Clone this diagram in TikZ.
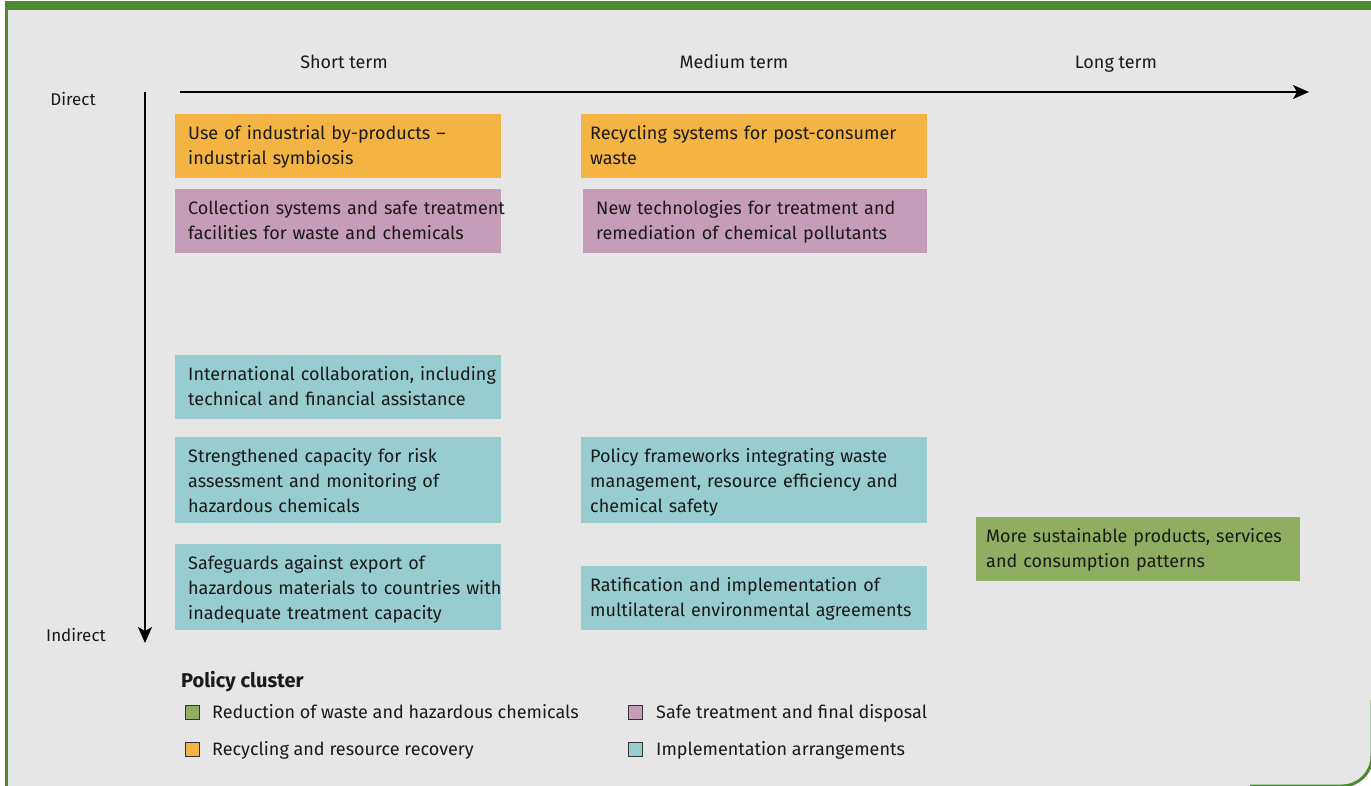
\documentclass[tikz,border=0pt]{standalone}
\usepackage{fontspec}
\setmainfont{Fira Sans}
\usetikzlibrary{arrows.meta}
\definecolor{bggrey}{HTML}{E6E6E6}
\definecolor{framegreen}{HTML}{4C8A2E}
\definecolor{orangeC}{HTML}{F3B443}
\definecolor{purpleC}{HTML}{C59DB9}
\definecolor{tealC}{HTML}{98CDD0}
\definecolor{greenC}{HTML}{8FAE62}
\definecolor{txt}{HTML}{1A1A1A}
\tikzset{
  every node/.style={font=\fontsize{18}{25}\selectfont, text=txt},
  pbox/.style={anchor=north west, inner xsep=13pt, inner ysep=0pt, align=left, minimum height=64pt,
    execute at begin node={\rule{0pt}{18pt}}, execute at end node={\rule[-6pt]{0pt}{6pt}}},
  pboxthree/.style={pbox, minimum height=86pt,
    execute at begin node={\rule{0pt}{21pt}}},
  header/.style={text height=15pt, text depth=2pt},
  axislabel/.style={font=\fontsize{17}{20}\selectfont, text height=14pt, text depth=1pt},
  axisline/.style={draw=black, line width=1.6pt, -{Stealth[length=16pt,width=14pt,inset=4pt]}},
  legsq/.style={draw=black!80, line width=0.9pt, minimum size=14pt, inner sep=0pt},
  legtext/.style={anchor=west, inner sep=0pt, text height=15pt, text depth=2pt}
}
\begin{document}
\begin{tikzpicture}[x=1pt,y=-1pt]
\useasboundingbox (0,0) rectangle (1371,786);
\clip (0,0) rectangle (1371,786);
% background and frame
\fill[white] (0,0) rectangle (1371,786);
\fill[bggrey] (6,8) -- (1372,8) -- (1372,756) arc[start angle=0,end angle=90,radius=30] -- (6,786) -- cycle;
\fill[framegreen] (5,1) rectangle (1371,10);
\fill[framegreen] (5,1) rectangle (8,786);
\draw[framegreen, line width=3pt] (1372,700) -- (1372,756) arc[start angle=0,end angle=90,radius=30] -- (1250,786);
% column headers
\node[header] (hs) at (344,62) {Short term};
\node[header] (hm) at (734,62) {Medium term};
\node[header] (hl) at (1116,62) {Long term};
\node[axislabel] (ld) at (73,99) {Direct};
\node[axislabel] (li) at (76,635) {Indirect};
% axes
\coordinate (hx0) at (180,92);
\coordinate (hx1) at (1309,92);
\coordinate (vy0) at (145,92);
\coordinate (vy1) at (145,643);
\draw[axisline] (hx0) -- (hx1);
\draw[axisline] (vy0) -- (vy1);
% boxes
\node[pbox, fill=orangeC, text width=300pt] (b1) at (175,114) {Use of industrial by-products –\\industrial symbiosis};
\node[pbox, fill=orangeC, inner xsep=9pt, text width=328pt] (b2) at (581,114) {Recycling systems for post-consumer\\waste};
\node[pbox, fill=purpleC, text width=300pt] (b3) at (175,189) {\mbox{Collection systems and safe treatment}\\facilities for waste and chemicals};
\node[pbox, fill=purpleC, text width=318pt] (b4) at (583,189) {New technologies for treatment and\\remediation of chemical pollutants};
\node[pbox, fill=tealC, text width=300pt] (b5) at (175,355) {\mbox{International collaboration, including}\\technical and financial assistance};
\node[pboxthree, fill=tealC, text width=300pt] (b6) at (175,437) {Strengthened capacity for risk\\assessment and monitoring of\\hazardous chemicals};
\node[pboxthree, fill=tealC, text width=300pt] (b7) at (175,544) {Safeguards against export of\\\mbox{hazardous materials to countries with}\\inadequate treatment capacity};
\node[pboxthree, fill=tealC, inner xsep=9pt, text width=328pt] (b8) at (581,437) {Policy frameworks integrating waste\\management, resource efficiency and\\chemical safety};
\node[pbox, fill=tealC, inner xsep=9pt, text width=328pt] (b9) at (581,566) {Ratification and implementation of\\multilateral environmental agreements};
\node[pbox, fill=greenC, inner xsep=10pt, text width=304pt] (b10) at (976,517) {More sustainable products, services\\and consumption patterns};
% legend
\node[anchor=west, inner sep=0pt, font=\fontsize{20}{24}\selectfont\bfseries, text height=16pt, text depth=1pt] (lt) at (181,680) {Policy cluster};
\node[legsq, fill=greenC] (s1) at (192,712) {};
\node[legtext] (t1) at (212,712) {Reduction of waste and hazardous chemicals};
\node[legsq, fill=orangeC] (s2) at (192,749) {};
\node[legtext] (t2) at (212,749) {Recycling and resource recovery};
\node[legsq, fill=purpleC] (s3) at (635,712) {};
\node[legtext] (t3) at (656,712) {Safe treatment and final disposal};
\node[legsq, fill=tealC] (s4) at (635,749) {};
\node[legtext] (t4) at (656,749) {Implementation arrangements};
\end{tikzpicture}
\end{document}
